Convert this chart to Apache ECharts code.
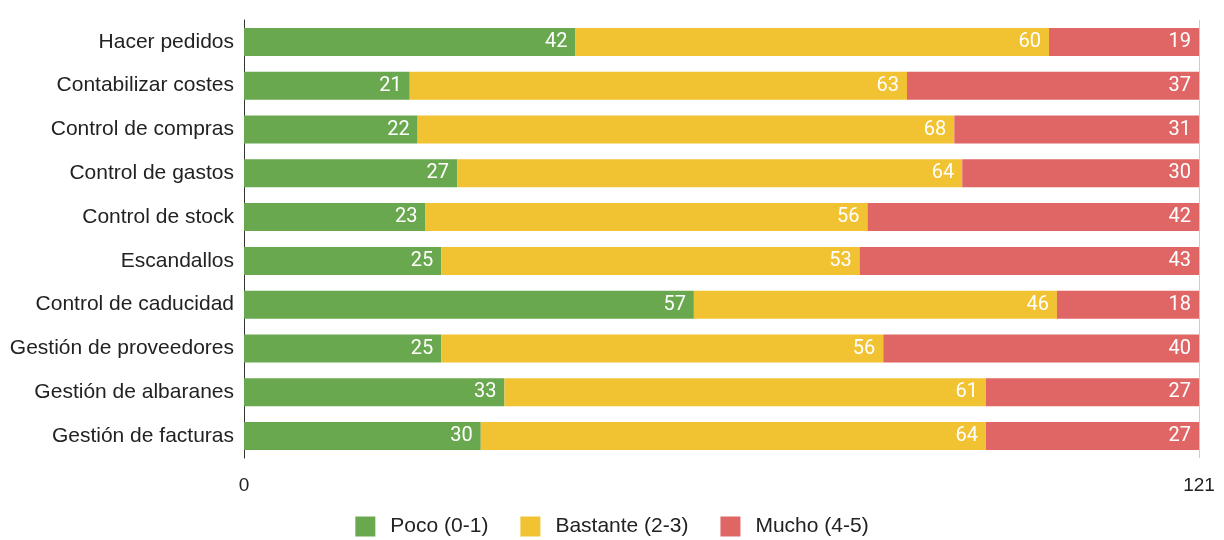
<!DOCTYPE html>
<html><head><meta charset="utf-8">
<script src="https://cdn.jsdelivr.net/npm/echarts@6/dist/echarts.min.js"></script>
<style>html,body{margin:0;padding:0;background:#fff}#c{width:1224px;height:540px}</style>
</head><body><div id="c"></div>
<script>
const categories = ["Hacer pedidos","Contabilizar costes","Control de compras","Control de gastos","Control de stock","Escandallos","Control de caducidad","Gestión de proveedores","Gestión de albaranes","Gestión de facturas"];
const poco = [42,21,22,27,23,25,57,25,33,30];
const bastante = [60,63,68,64,56,53,46,56,61,64];
const mucho = [19,37,31,30,42,43,18,40,27,27];
const seriesNames = ["Poco (0-1)","Bastante (2-3)","Mucho (4-5)"];
const colors = ["#6aa84f","#f1c232","#e06666"];
const axisMax = 121;

const font = "'Liberation Sans', Arial, sans-serif";
const chart = echarts.init(document.getElementById('c'));
const mk = (name, data, color) => ({
  name, type: 'bar', stack: 'total', data, barWidth: 28,
  itemStyle: {color},
  label: {show: true, position: 'insideRight', color: '#fff', fontSize: 20, fontFamily: 'Roboto, sans-serif', distance: 8},
  emphasis: {disabled: true}
});
chart.setOption({
  animation: false,
  color: colors,
  grid: {left: 244, right: 25, top: 20, bottom: 82, containLabel: false},
  legend: {
    top: 516, left: 'center', padding: 0, itemWidth: 20, itemHeight: 20, itemGap: 32,
    icon: 'rect',
    textStyle: {fontSize: 21, fontFamily: font, color: '#222', padding: [0, 0, 0, 10]},
    data: seriesNames
  },
  xAxis: {
    type: 'value', min: 0, max: axisMax, interval: axisMax,
    axisLine: {show: false}, axisTick: {show: false},
    splitLine: {show: true, lineStyle: {color: '#cccccc', width: 1}},
    axisLabel: {fontSize: 19, fontFamily: font, color: '#222', margin: 18}
  },
  yAxis: {
    type: 'category', data: categories, inverse: true,
    axisLine: {show: true, lineStyle: {color: '#333', width: 1}},
    axisTick: {show: false},
    axisLabel: {fontSize: 21, fontFamily: font, color: '#222', margin: 10}
  },
  series: [
    mk(seriesNames[0], poco, colors[0]),
    mk(seriesNames[1], bastante, colors[1]),
    mk(seriesNames[2], mucho, colors[2])
  ]
});
</script></body></html>
